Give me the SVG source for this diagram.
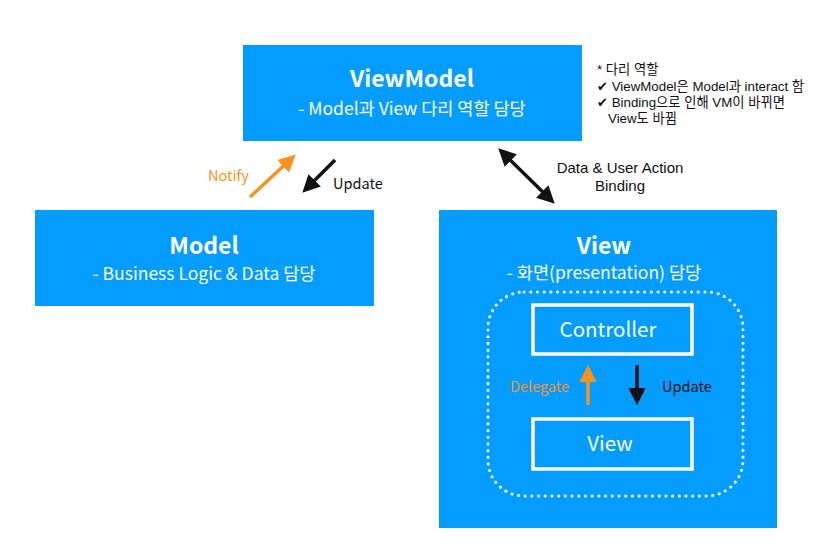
<svg xmlns="http://www.w3.org/2000/svg" width="820" height="555" viewBox="0 0 820 555">
<style>
text{font-family:"Noto Sans CJK KR","Noto Sans",sans-serif;}
.box{fill:#049DFF;}
.title{fill:#fff;font-size:23px;font-weight:600;text-anchor:middle;}
.sub{fill:#fff;font-size:17.5px;text-anchor:middle;}
.inner{fill:none;stroke:#fff;stroke-width:3.5;}
.itext{fill:#fff;font-size:20.5px;text-anchor:middle;}
.lbl{font-size:14.5px;fill:#111;}
.lbl2{font-size:15px;fill:#111;text-anchor:middle;font-family:"Liberation Sans","Noto Sans CJK KR",sans-serif;}
.orl{font-size:14.5px;fill:#F7931E;}
.note{font-size:13.3px;fill:#111;font-family:"Liberation Sans","Noto Sans CJK KR",sans-serif;}
.blk{stroke:#111;stroke-width:3.5;fill:none;}
.org{stroke:#F7931E;stroke-width:3.5;fill:none;}
</style>
<defs>
<marker id="hb" viewBox="0 0 10 10" refX="7" refY="5" markerWidth="5" markerHeight="5" orient="auto-start-reverse" markerUnits="strokeWidth"><path d="M0,0 L10,5 L0,10 Z" fill="#111"/></marker>
<marker id="ho" viewBox="0 0 10 10" refX="7" refY="5" markerWidth="5" markerHeight="5" orient="auto-start-reverse" markerUnits="strokeWidth"><path d="M0,0 L10,5 L0,10 Z" fill="#F7931E"/></marker>
</defs>
<rect width="820" height="555" fill="#fff"/>
<g id="viewmodel">
<rect class="box" x="243" y="45" width="339" height="96"/>
<text class="title" x="412" y="87">ViewModel</text>
<text class="sub" x="412" y="115">- Model과 View 다리 역할 담당</text>
</g>
<g id="model">
<rect class="box" x="35" y="210" width="339" height="96"/>
<text class="title" x="204" y="254">Model</text>
<text class="sub" x="204" y="280">- Business Logic &amp; Data 담당</text>
</g>
<g id="view">
<rect class="box" x="439" y="210" width="338" height="318"/>
<text class="title" x="604" y="254">View</text>
<text class="sub" x="604" y="279">- 화면(presentation) 담당</text>
<rect x="488" y="292" width="255" height="204" rx="36" fill="none" stroke="#fff" stroke-width="3" stroke-dasharray="0.1 6.6" stroke-linecap="round"/>
</g>
<g id="controller">
<rect class="inner" x="533" y="305" width="159" height="49"/>
<text class="itext" x="608" y="337">Controller</text>
</g>
<g id="innerview">
<rect class="inner" x="533" y="419" width="159" height="50"/>
<text class="itext" x="610" y="451">View</text>
</g>
<g id="connectors">
<line class="org" x1="250" y1="197" x2="292" y2="158" marker-end="url(#ho)"/>
<line class="blk" x1="335" y1="160" x2="306" y2="189" marker-end="url(#hb)"/>
<line class="blk" x1="502" y1="152" x2="551" y2="200" marker-start="url(#hb)" marker-end="url(#hb)"/>
<line class="org" x1="588" y1="405" x2="588" y2="370" marker-end="url(#ho)"/>
<line class="blk" x1="637" y1="365" x2="637" y2="400" marker-end="url(#hb)"/>
</g>
<g id="labels">
<text class="orl" x="208" y="181">Notify</text>
<text class="lbl" x="333" y="189">Update</text>
<text class="lbl2" x="620" y="173">Data &amp; User Action</text>
<text class="lbl2" x="620" y="191">Binding</text>
<text class="orl" x="510" y="392">Delegate</text>
<text class="lbl" x="662" y="392">Update</text>
</g>
<g id="notes">
<text class="note" x="597" y="74">* 다리 역할</text>
<text class="note" x="597" y="91">✔ ViewModel은 Model과 interact 함</text>
<text class="note" x="597" y="107">✔ Binding으로 인해 VM이 바뀌면</text>
<text class="note" x="608" y="123">View도 바뀜</text>
</g>
</svg>
